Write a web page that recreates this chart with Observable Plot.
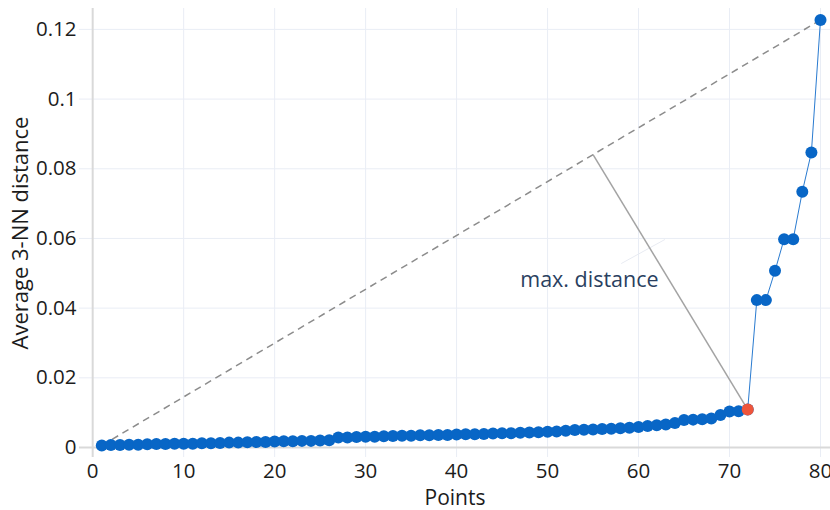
<!DOCTYPE html>
<html><head><meta charset="utf-8">
<script src="https://cdn.jsdelivr.net/npm/d3@7"></script>
<script src="https://cdn.jsdelivr.net/npm/@observablehq/plot@0.6"></script>
<style>body{margin:0;background:#fff;}</style>
</head><body><div id="chart"></div>
<script>
// Average 3-NN distance of each point, sorted ascending (points 1..80)
const distances = [
  0.0006, 0.0007, 0.0007, 0.0008, 0.0008, 0.0009, 0.0010, 0.0010, 0.0011, 0.0011,
  0.0011, 0.0012, 0.0012, 0.0013, 0.0014, 0.0014, 0.0015, 0.0016, 0.0016, 0.0017,
  0.0018, 0.0018, 0.0019, 0.0019, 0.0020, 0.0021, 0.0029, 0.0029, 0.0030, 0.0031,
  0.0031, 0.0032, 0.0033, 0.0034, 0.0034, 0.0035, 0.0035, 0.0036, 0.0036, 0.0037,
  0.0038, 0.0038, 0.0039, 0.0040, 0.0041, 0.0041, 0.0042, 0.0043, 0.0044, 0.0045,
  0.0046, 0.0048, 0.0050, 0.0051, 0.0052, 0.0053, 0.0054, 0.0055, 0.0057, 0.0059,
  0.0062, 0.0064, 0.0066, 0.0070, 0.0079, 0.0080, 0.0081, 0.0083, 0.0093, 0.0103,
  0.0104, 0.0109, 0.0423, 0.0423, 0.0507, 0.0598, 0.0598, 0.0734, 0.0847, 0.1227
];
const pointIds = distances.map((d, i) => i + 1);
const elbowPoint = [72];          // point with max distance to the chord
const chordFootX = [55];          // foot of the perpendicular on the chord
const annotationText = ["max. distance"];
const annotationPos = [{x: 54.6, y: 0.048}];
const annotationArrow = [{x1: 58.1, y1: 0.0528, x2: 62.9, y2: 0.0597}];
const xTicks = [0, 10, 20, 30, 40, 50, 60, 70, 80];
const yTicks = [0, 0.02, 0.04, 0.06, 0.08, 0.1, 0.12];

const data = pointIds.map((p, i) => ({point: p, dist: distances[i]}));
const first = data[0], last = data[data.length - 1];
const elbow = data.find(d => d.point === elbowPoint[0]);
const footY = first.dist + (chordFootX[0] - first.point) / (last.point - first.point) * (last.dist - first.dist);
const chord = [{x1: first.point, y1: first.dist, x2: last.point, y2: last.dist}];
const perp = [{x1: elbow.point, y1: elbow.dist, x2: chordFootX[0], y2: footY}];

const chart = Plot.plot({
  width: 830,
  height: 510,
  marginLeft: 79,
  marginRight: 0,
  marginTop: 8,
  marginBottom: 53,
  style: {fontFamily: "'Open Sans', sans-serif", fontSize: "20px", color: "#1c1c1c", background: "#fff"},
  x: {domain: [-1.45, 81.1]},
  y: {domain: [-0.00287, 0.126]},
  marks: [
    Plot.gridX(xTicks.filter(d => d !== 0), {stroke: "#e9edf5", strokeOpacity: 1, strokeWidth: 1}),
    Plot.gridY(yTicks.filter(d => d !== 0), {stroke: "#e9edf5", strokeOpacity: 1, strokeWidth: 1}),
    Plot.ruleX([0], {stroke: "#d9d9d9", strokeWidth: 2}),
    Plot.ruleY([0], {stroke: "#d9d9d9", strokeWidth: 2}),
    Plot.axisX({ticks: xTicks, tickSize: 0, tickPadding: 6, fontSize: 20.5, label: null}),
    Plot.axisY({ticks: yTicks, tickSize: 0, tickPadding: 3, fontSize: 20.5, tickFormat: d3.format("~g"), label: null}),
    Plot.axisX({ticks: [], tickSize: 0, fontSize: 21, label: "Points", labelAnchor: "center", labelOffset: 47.5, labelArrow: "none"}),
    Plot.axisY({ticks: [], tickSize: 0, fontSize: 22, label: "Average 3-NN distance", labelAnchor: "center", labelOffset: 67, labelArrow: "none"}),
    Plot.link(annotationArrow, {x1: "x1", y1: "y1", x2: "x2", y2: "y2", stroke: "#e8ebf2", strokeWidth: 1}),
    Plot.link(chord, {x1: "x1", y1: "y1", x2: "x2", y2: "y2", stroke: "#8c8c8c", strokeWidth: 1.5, strokeDasharray: "7,5"}),
    Plot.link(perp, {x1: "x1", y1: "y1", x2: "x2", y2: "y2", stroke: "#a3a3a3", strokeWidth: 1.5}),
    Plot.line(data, {x: "point", y: "dist", stroke: "#2a7bd0", strokeWidth: 1}),
    Plot.dot(data, {x: "point", y: "dist", r: 6, fill: "#0866c6", stroke: "none"}),
    Plot.dot([elbow], {x: "point", y: "dist", r: 6, fill: "#ee553b", stroke: "none"}),
    Plot.text(annotationPos, {x: "x", y: "y", text: () => annotationText[0], fontSize: 21.5, fill: "#2a3f5f", textAnchor: "middle"})
  ]
});
document.getElementById("chart").appendChild(chart);
</script>
</body></html>
